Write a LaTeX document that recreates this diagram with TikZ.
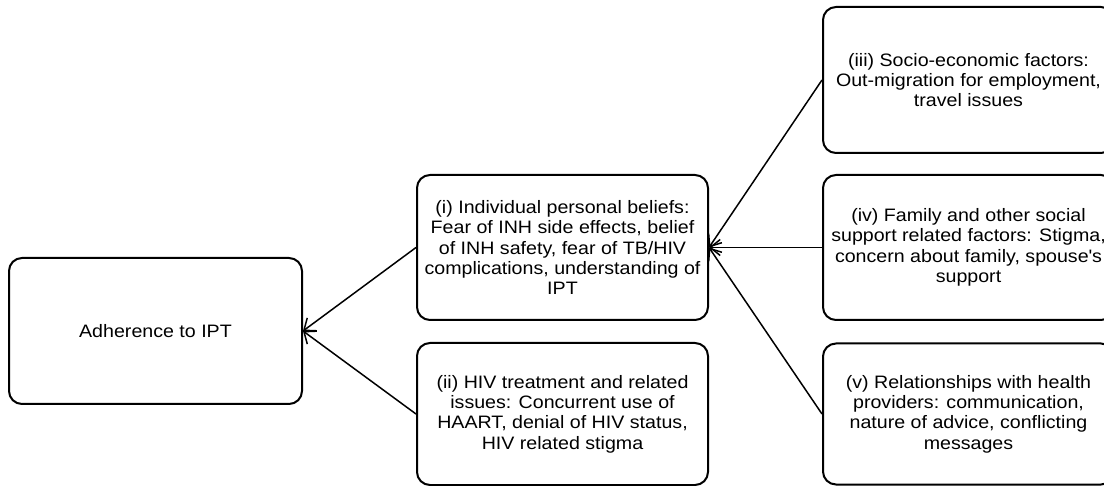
\documentclass[tikz,border=0pt]{standalone}
\usepackage{fontspec}
\setmainfont{Liberation Sans}[FakeStretch=1.09]
\usetikzlibrary{arrows.meta}
\begin{document}
\begin{tikzpicture}[x=1pt,y=-1pt,
  box/.style={draw, line width=2pt, rounded corners=13pt, align=center,
    font=\fontsize{18}{20.4}\selectfont, inner sep=0pt},
  conn/.style={line width=1.5pt, -{Straight Barb[length=10pt,width=16pt,line width=1.5pt]}}]
\useasboundingbox (0,0) rectangle (1104,486);
\node[box, minimum width=293pt, minimum height=146pt] (adh) at (155.5,331) {Adherence to IPT};
\node[box, minimum width=291pt, minimum height=145pt] (i) at (562.5,247.5)
  {(i) Individual personal beliefs:\\Fear of INH side effects, belief\\of INH safety, fear of TB/HIV\\complications, understanding of\\IPT};
\node[box, minimum width=291pt, minimum height=142pt] (ii) at (562.5,414)
  {(ii) HIV treatment and related\\issues: Concurrent use of\\HAART, denial of HIV status,\\HIV related stigma};
\node[box, minimum width=291pt, minimum height=146pt] (iii) at (968.5,80)
  {(iii) Socio-economic factors:\\Out-migration for employment,\\travel issues};
\node[box, minimum width=291pt, minimum height=145pt] (iv) at (968.5,247.5)
  {(iv) Family and other social\\support related factors: Stigma,\\concern about family, spouse\textquotesingle s\\support};
\node[box, minimum width=291pt, minimum height=141pt] (v) at (968.5,414)
  {(v) Relationships with health\\providers: communication,\\nature of advice, conflicting\\messages};
\draw[conn] (i.west) -- (adh.east);
\draw[conn] (ii.west) -- (adh.east);
\draw[conn] (iii.west) -- (i.east);
\draw[conn] (iv.west) -- (i.east);
\draw[conn] (v.west) -- (i.east);
\end{tikzpicture}
\end{document}
